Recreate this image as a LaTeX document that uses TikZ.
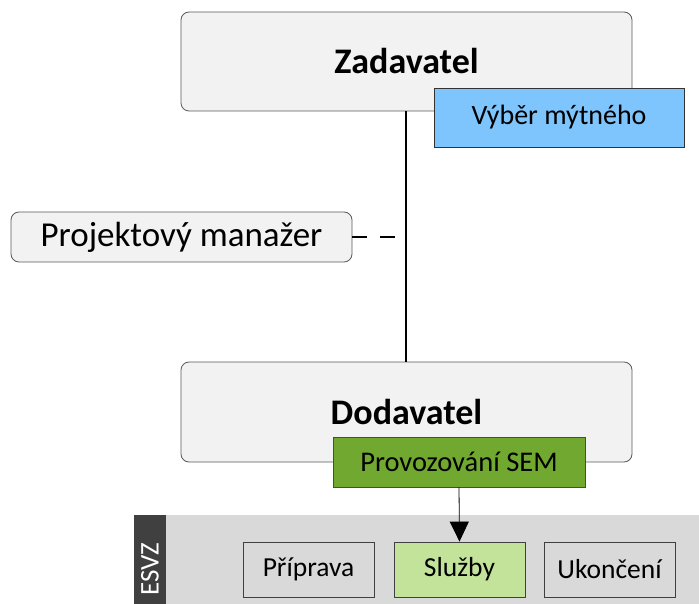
\documentclass[tikz,border=0pt]{standalone}
\usepackage{fontspec}
\setmainfont{Carlito}
\usetikzlibrary{arrows.meta}
\definecolor{boxfill}{HTML}{F2F2F2}
\definecolor{boxline}{HTML}{595959}
\definecolor{bluefill}{HTML}{7DC5FC}
\definecolor{greenfill}{HTML}{70A830}
\definecolor{greenline}{HTML}{3A5A1A}
\definecolor{lightgreen}{HTML}{C3E39A}
\definecolor{panel}{HTML}{D9D9D9}
\definecolor{strip}{HTML}{404040}
\begin{document}
\begin{tikzpicture}[x=1pt,y=-1pt,
  roundbox/.style={draw=boxline, fill=boxfill, rounded corners=8pt, line width=0.8pt, inner sep=0pt},
  tagbox/.style={draw=black!80, line width=0.8pt, inner sep=0pt},
  stagebox/.style={draw=black!75, fill=panel, line width=0.8pt, inner sep=0pt, minimum width=131pt, minimum height=55pt, font=\fontsize{27.5}{32}\selectfont}
]
\useasboundingbox (0,0) rectangle (699,604);
% panel
\fill[panel] (134,515) rectangle (699,604);
\fill[strip] (134,515) rectangle (166,604);
\node[rotate=90, text=white, font=\fontsize{27}{32}\selectfont] (esvz) at (150,569) {ESVZ};

\node[roundbox, minimum width=451pt, minimum height=99pt, font=\fontsize{36}{42}\selectfont\bfseries] (zad) at (406.5,61.5) {Zadavatel};
\node[roundbox, minimum width=451pt, minimum height=100pt, font=\fontsize{36}{42}\selectfont\bfseries] (dod) at (406.5,412) {Dodavatel};
\node[roundbox, minimum width=341pt, minimum height=50pt, font=\fontsize{35}{40}\selectfont] (pm) at (181.5,237) {Projektový manažer};

\coordinate (zb) at (406,111);
\coordinate (dt) at (406,362);
\coordinate (jn) at (406,237);
\draw[line width=2.5pt] (zb) -- (dt);
\draw[line width=2pt, dash pattern=on 15pt off 13pt] (pm.east) -- (jn);

\node[tagbox, fill=bluefill, minimum width=250pt, minimum height=59pt, font=\fontsize{28}{33}\selectfont] (vyb) at (559,117.5) {Výběr mýtného};
\node[tagbox, draw=greenline, fill=greenfill, minimum width=252pt, minimum height=50pt, font=\fontsize{28.5}{33}\selectfont] (prov) at (459,462) {Provozování SEM};

\node[stagebox] (prip) at (308.5,569.5) {Příprava};
\node[stagebox, fill=lightgreen] (sluz) at (459.5,569.5) {Služby};
\node[stagebox] (ukon) at (609.5,569.5) {Ukončení};

\draw[line width=0.8pt, -{Triangle[width=19pt,length=20pt]}] (prov.south) -- (sluz.north);
\end{tikzpicture}
\end{document}
